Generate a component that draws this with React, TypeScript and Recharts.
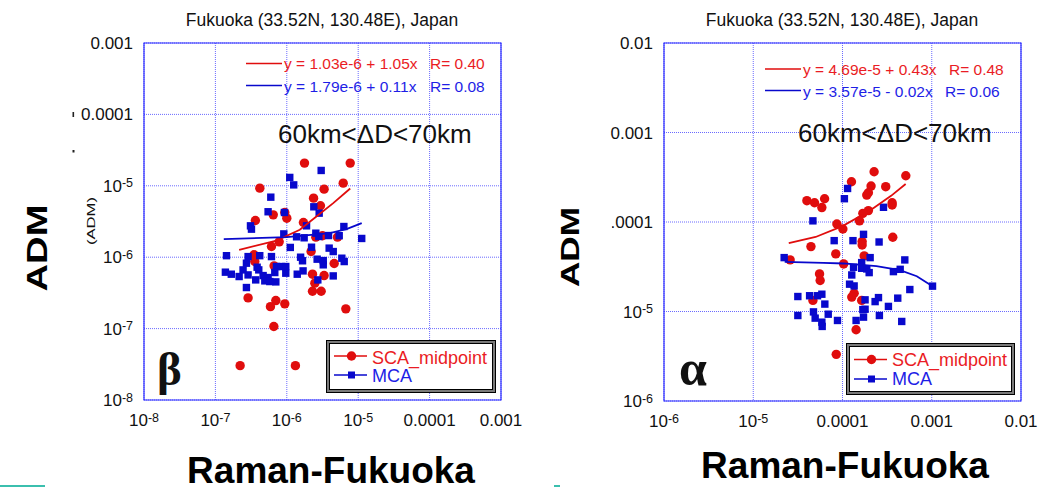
import React from "react";
import { ScatterChart, Scatter, XAxis, YAxis, CartesianGrid, ReferenceArea } from "recharts";

const RED = "#e00d0d";
const BLUE = "#0808cc";
const RED_TXT = "#ea1c24";
const BLUE_TXT = "#1e1ee6";
const GRID = "#6b6bff";
const FRAME = "#2a2aff";

// beta panel (left)
const betaTicks = [1e-8, 1e-7, 1e-6, 1e-5, 1e-4, 1e-3];
const betaScaX = [1.77e-6, 7.73e-6, 6.17e-6, 4.19e-7, 3.33e-6, 2.37e-6, 2.96e-6, 6.46e-7, 9.37e-7, 1.0e-6, 3.63e-7, 1.71e-6, 2.55e-6, 3.16e-6, 5.13e-6, 7.82e-7, 6.1e-7, 3.48e-7, 3.56e-7, 4.61e-6, 6.64e-7, 2.19e-6, 2.29e-6, 3.33e-6, 2.47e-6, 2.29e-6, 3.03e-6, 2.87e-7, 7.02e-7, 9.37e-7, 5.9e-7, 6.71e-6, 6.58e-7, 2.22e-7, 1.32e-6];
const betaScaY = [2.08e-5, 2.08e-5, 1.09e-5, 9.27e-6, 8.97e-6, 6.71e-6, 5.25e-6, 3.92e-6, 4.23e-6, 3.52e-6, 3.27e-6, 3.06e-6, 1.91e-6, 2.0e-6, 1.91e-6, 1.64e-6, 1.41e-6, 1.08e-6, 8.7e-7, 8.15e-7, 7.57e-7, 1.2e-6, 5.78e-7, 5.53e-7, 4.33e-7, 3.33e-7, 3.33e-7, 2.69e-7, 2.47e-7, 2.22e-7, 2.03e-7, 1.89e-7, 1.07e-7, 3.03e-8, 3.03e-8];
const betaMcaX = [1.1e-6, 1.25e-6, 3.03e-6, 5.97e-7, 5.47e-7, 9.27e-7, 2.39e-6, 2.84e-6, 3.1e-7, 3.2e-7, 1.89e-6, 9.08e-7, 1.37e-6, 1.75e-6, 2.55e-6, 2.81e-6, 3.84e-6, 5.42e-6, 6.3e-6, 1.12e-5, 1.43e-7, 2.87e-7, 4.18e-7, 6.1e-7, 1.12e-6, 2.22e-6, 3.92e-6, 4.47e-6, 1.56e-6, 1.66e-6, 2.66e-6, 3.24e-6, 3.24e-6, 5.9e-6, 6.37e-6, 2.72e-7, 1.38e-7, 1.67e-7, 2.15e-7, 2.44e-7, 2.87e-7, 3.84e-7, 4.05e-7, 4.66e-7, 3.67e-7, 5.47e-7, 4.92e-7, 5.78e-7, 7.02e-7, 7.16e-7, 8.41e-7, 9.68e-7, 6.79e-7, 9.68e-7, 1.4e-6, 1.69e-6, 2.72e-6, 4.47e-6, 2.72e-7];
const betaMcaY = [1.31e-5, 1.03e-5, 1.64e-5, 6.93e-6, 4.33e-6, 4.23e-6, 5.08e-6, 4.14e-6, 2.75e-6, 2.47e-6, 2.75e-6, 2.12e-6, 1.93e-6, 1.87e-6, 2.17e-6, 1.95e-6, 2.01e-6, 2.0e-6, 2.69e-6, 1.83e-6, 1.05e-6, 1.02e-6, 1.05e-6, 1.02e-6, 1.37e-6, 1.38e-6, 1.34e-6, 1.2e-6, 1.0e-6, 8.91e-7, 9.38e-7, 8.97e-7, 7.82e-7, 9.68e-7, 8.69e-7, 8.24e-7, 6.17e-7, 5.78e-7, 5.36e-7, 6.64e-7, 5.65e-7, 7.24e-7, 6.64e-7, 5.53e-7, 4.81e-7, 5.19e-7, 4.66e-7, 4.56e-7, 4.51e-7, 7.4e-7, 7.4e-7, 7.4e-7, 6.1e-7, 5.97e-7, 5.78e-7, 6.43e-7, 4.81e-7, 5.47e-7, 3.76e-7];
const betaScaFitX = [2.15e-7, 7.16e-7, 1.52e-6, 2.6e-6, 4.47e-6, 7.73e-6];
const betaScaFitY = [1.27e-6, 1.71e-6, 2.42e-6, 3.72e-6, 5.71e-6, 9.18e-6];
const betaMcaFitX = [1.31e-7, 1.0e-6, 4.0e-6, 6.85e-6, 1.12e-5];
const betaMcaFitY = [1.79e-6, 1.91e-6, 2.17e-6, 2.47e-6, 3.0e-6];

// alpha panel (right)
const alphaTicks = [1e-6, 1e-5, 1e-4, 1e-3, 1e-2];
const alphaScaX = [2.26e-4, 5.12e-4, 1.26e-4, 2.09e-4, 3.05e-4, 1.87e-4, 1.95e-4, 3.99e-5, 4.86e-5, 6.3e-5, 5.87e-5, 3.6e-4, 3.6e-4, 1.95e-4, 1.69e-4, 1.55e-4, 8.65e-5, 1.01e-4, 3.66e-4, 4.43e-5, 1.66e-4, 1.66e-4, 8.41e-5, 1.75e-4, 2.59e-5, 1.03e-4, 5.53e-5, 5.62e-5, 1.35e-4, 1.27e-4, 4.66e-5, 1.64e-4, 1.42e-4, 8.51e-5];
const alphaScaY = [3.64e-4, 3.29e-4, 2.82e-4, 2.52e-4, 2.48e-4, 2.0e-4, 2.12e-4, 1.73e-4, 1.64e-4, 1.82e-4, 1.45e-4, 1.64e-4, 1.55e-4, 1.34e-4, 1.25e-4, 1.03e-4, 9.51e-5, 8.36e-5, 6.75e-5, 5.31e-5, 6.04e-5, 5.53e-5, 4.4e-5, 4.18e-5, 3.77e-5, 3.4e-5, 2.63e-5, 2.22e-5, 1.6e-5, 1.45e-5, 1.33e-5, 1.33e-5, 6.25e-6, 3.32e-6];
const alphaMcaX = [1.14e-4, 1.05e-4, 2.88e-4, 4.66e-5, 8.07e-5, 1.31e-4, 1.72e-4, 2.57e-4, 2.22e-5, 2.04e-4, 4.99e-4, 1.64e-4, 1.33e-4, 1.27e-4, 1.64e-4, 1.87e-4, 1.99e-4, 3.72e-4, 4.43e-4, 1.2e-4, 1.35e-4, 5.68e-4, 1.02e-3, 3.16e-5, 4.28e-5, 5.25e-5, 5.87e-5, 6.34e-5, 4.73e-5, 4.94e-5, 5.87e-5, 5.92e-5, 6.92e-5, 8.79e-5, 3.16e-5, 1.42e-4, 1.72e-4, 1.79e-4, 1.79e-4, 2.32e-4, 2.53e-4, 2.59e-4, 3.27e-4, 4.16e-4, 4.61e-4, 1.69e-4];
const alphaMcaY = [2.37e-4, 1.82e-4, 1.46e-4, 1.03e-4, 6.19e-5, 6.19e-5, 7.28e-5, 5.98e-5, 4.0e-5, 4.0e-5, 3.77e-5, 3.52e-5, 3.12e-5, 2.56e-5, 3.04e-5, 2.99e-5, 2.72e-5, 2.79e-5, 2.96e-5, 2.02e-5, 1.93e-5, 1.76e-5, 1.92e-5, 1.47e-5, 1.5e-5, 1.5e-5, 1.56e-5, 1.21e-5, 9.9e-6, 8.43e-6, 7.6e-6, 6.81e-6, 9.33e-6, 7.94e-6, 9.02e-6, 7.94e-6, 8.65e-6, 1.06e-5, 1.35e-5, 1.29e-5, 1.43e-5, 9.02e-6, 1.14e-5, 1.41e-5, 7.74e-6, 1.05e-5];
const alphaScaFitX = [2.5e-5, 5.0e-5, 1.0e-4, 2.0e-4, 3.5e-4, 5.1e-4];
const alphaScaFitY = [5.8e-5, 6.8e-5, 9.0e-5, 1.33e-4, 1.96e-4, 2.66e-4];
const alphaMcaFitX = [2.25e-5, 6.1e-5, 1.03e-4, 2.4e-4, 4.4e-4, 6.8e-4, 1.02e-3];
const alphaMcaFitY = [3.59e-5, 3.5e-5, 3.44e-5, 3.21e-5, 2.9e-5, 2.48e-5, 1.92e-5];

const pts = (xs: number[], ys: number[]) => xs.map((x, i) => ({ x, y: ys[i] }));

function LogTick(props: any) {
  const { x, y, payload, side } = props;
  const v = payload.value;
  const e = Math.round(Math.log10(v));
  const isX = side === "x";
  const tx = isX ? x : x - 11;
  const ty = isX ? y + 26 : y + 6;
  const anchor = isX ? "middle" : "end";
  if (e >= -4) {
    return (
      <text x={tx} y={ty} textAnchor={anchor} fontSize={17} fill="#111">
        {v.toFixed(-e)}
      </text>
    );
  }
  return (
    <text x={tx} y={ty} textAnchor={anchor} fontSize={17} fill="#111">
      <tspan>10</tspan>
      <tspan dy={-4.5} fontSize={12.5}>{`${e}`}</tspan>
    </text>
  );
}

const Dot = (p: any) => <circle cx={p.cx} cy={p.cy} r={4.7} fill={RED} />;
const Sq = (p: any) => <rect x={p.cx - 3.7} y={p.cy - 3.7} width={7.4} height={7.4} fill={BLUE} />;
const NoMark = () => <g />;

function Panel({ ticks, sca, mca, scaFit, mcaFit, width, margin }: any) {
  const lo = ticks[0];
  const hi = ticks[ticks.length - 1];
  return (
    <ScatterChart width={width} height={498} margin={margin}>
      <CartesianGrid stroke={GRID} strokeDasharray="1 1" />
      <XAxis
        type="number"
        dataKey="x"
        scale="log"
        domain={[lo, hi]}
        ticks={ticks}
        allowDataOverflow
        height={30}
        axisLine={false}
        tickLine={false}
        tickSize={0}
        tickMargin={0}
        interval={0}
        tick={(p: any) => <LogTick {...p} side="x" />}
      />
      <YAxis
        type="number"
        dataKey="y"
        scale="log"
        domain={[lo, hi]}
        ticks={ticks}
        allowDataOverflow
        width={60}
        axisLine={false}
        tickLine={false}
        tickSize={0}
        tickMargin={0}
        interval={0}
        tick={(p: any) => <LogTick {...p} side="y" />}
      />
      <ReferenceArea x1={lo} x2={hi} y1={lo} y2={hi} fill="none" stroke={FRAME} strokeWidth={1.2} />
      <Scatter data={sca} shape={Dot} isAnimationActive={false} />
      <Scatter data={mca} shape={Sq} isAnimationActive={false} />
      <Scatter data={scaFit} shape={NoMark} line={{ stroke: RED, strokeWidth: 1.8 }} lineType="joint" isAnimationActive={false} />
      <Scatter data={mcaFit} shape={NoMark} line={{ stroke: BLUE, strokeWidth: 1.8 }} lineType="joint" isAnimationActive={false} />
    </ScatterChart>
  );
}

function LegendBox({ x, y, w, h, rows }: any) {
  return (
    <g>
      <rect x={x + 0.5} y={y + 0.5} width={w} height={h} fill="#7a7a7a" stroke="#000" />
      <rect x={x + 3.5} y={y + 3.5} width={w - 6} height={h - 6} fill="#fff" stroke="#000" />
      {rows.map((r: any, i: number) => (
        <g key={i}>
          <line x1={x + 8} x2={x + 41} y1={r.cy} y2={r.cy} stroke={r.color} strokeWidth={1.6} />
          {r.circle ? (
            <circle cx={x + 25.5} cy={r.cy} r={4.7} fill={r.color} />
          ) : (
            <rect x={x + 22} y={r.cy - 3.5} width={7} height={7} fill={r.color} />
          )}
          <text x={x + 46} y={r.base} fontSize={18} fill={r.txt}>{r.label}</text>
        </g>
      ))}
    </g>
  );
}

export default function App() {
  const font = "'Liberation Sans', Arial, sans-serif";
  return (
    <div style={{ position: "absolute", left: 0, top: 0, width: 1064, height: 498, background: "#fff", fontFamily: font, overflow: "hidden" }}>
      <div style={{ position: "absolute", left: 0, top: 0 }}>
        <Panel
          width={540}
          ticks={betaTicks}
          sca={pts(betaScaX, betaScaY)}
          mca={pts(betaMcaX, betaMcaY)}
          scaFit={pts(betaScaFitX, betaScaFitY)}
          mcaFit={pts(betaMcaFitX, betaMcaFitY)}
          margin={{ top: 43, right: 39, bottom: 68, left: 84 }}
        />
      </div>
      <div style={{ position: "absolute", left: 540, top: 0 }}>
        <Panel
          width={524}
          ticks={alphaTicks}
          sca={pts(alphaScaX, alphaScaY)}
          mca={pts(alphaMcaX, alphaMcaY)}
          scaFit={pts(alphaScaFitX, alphaScaFitY)}
          mcaFit={pts(alphaMcaFitX, alphaMcaFitY)}
          margin={{ top: 43, right: 43, bottom: 67, left: 64 }}
        />
      </div>
      <svg width={1064} height={498} style={{ position: "absolute", left: 0, top: 0, pointerEvents: "none" }} fontFamily={font}>
        {/* titles */}
        <text x={322} y={26} textAnchor="middle" fontSize={17.5} fill="#111">Fukuoka (33.52N, 130.48E), Japan</text>
        <text x={842} y={26} textAnchor="middle" fontSize={17.5} fill="#111">Fukuoka (33.52N, 130.48E), Japan</text>

        {/* fit legends */}
        <line x1={246} x2={282} y1={63.5} y2={63.5} stroke={RED} strokeWidth={1.6} />
        <text x={284} y={69} fontSize={15.5} fill={RED_TXT}>y = 1.03e-6 + 1.05x</text>
        <text x={430} y={69} fontSize={15.5} fill={RED_TXT}>R= 0.40</text>
        <line x1={246} x2={282} y1={85.5} y2={85.5} stroke={BLUE} strokeWidth={1.6} />
        <text x={284} y={91.5} fontSize={15.5} fill={BLUE_TXT}>y = 1.79e-6 + 0.11x</text>
        <text x={430} y={91.5} fontSize={15.5} fill={BLUE_TXT}>R= 0.08</text>

        <line x1={765} x2={801} y1={69} y2={69} stroke={RED} strokeWidth={1.6} />
        <text x={803} y={74.5} fontSize={15.5} fill={RED_TXT}>y = 4.69e-5 + 0.43x</text>
        <text x={949} y={74.5} fontSize={15.5} fill={RED_TXT}>R= 0.48</text>
        <line x1={765} x2={801} y1={90.5} y2={90.5} stroke={BLUE} strokeWidth={1.6} />
        <text x={803} y={96.5} fontSize={15.5} fill={BLUE_TXT}>y = 3.57e-5 - 0.02x</text>
        <text x={945} y={96.5} fontSize={15.5} fill={BLUE_TXT}>R= 0.06</text>

        {/* distance range */}
        <text x={278} y={142.5} fontSize={26} fill="#111">60km&lt;ΔD&lt;70km</text>
        <text x={798} y={141.5} fontSize={26} fill="#111">60km&lt;ΔD&lt;70km</text>

        {/* greek tags */}
        <text x={157} y={385} fontSize={47} fontWeight="bold" fontFamily="'Liberation Serif', 'Times New Roman', serif" fill="#111">β</text>
        <text x={679} y={385} fontSize={50} fontWeight="bold" fontFamily="'Liberation Serif', 'Times New Roman', serif" fill="#111">α</text>

        {/* series legends */}
        <LegendBox
          x={326}
          y={340}
          w={169}
          h={52}
          rows={[
            { cy: 356, base: 363.5, color: RED, txt: RED_TXT, label: "SCA_midpoint", circle: true },
            { cy: 375, base: 382, color: BLUE, txt: BLUE_TXT, label: "MCA", circle: false },
          ]}
        />
        <LegendBox
          x={846}
          y={343}
          w={168}
          h={51}
          rows={[
            { cy: 359.5, base: 366, color: RED, txt: RED_TXT, label: "SCA_midpoint", circle: true },
            { cy: 379, base: 385, color: BLUE, txt: BLUE_TXT, label: "MCA", circle: false },
          ]}
        />

        {/* axis titles */}
        <text x={46.5} y={248} transform="rotate(-90 46.5 248)" textAnchor="middle" fontSize={29} fontWeight="bold" textLength={87} lengthAdjust="spacingAndGlyphs" fill="#000">ADM</text>
        <text x={95} y={221} transform="rotate(-90 95 221)" textAnchor="middle" fontSize={11} textLength={48} lengthAdjust="spacingAndGlyphs" fill="#111">(ADM)</text>
        <text x={579} y={247} transform="rotate(-90 579 247)" textAnchor="middle" fontSize={26} fontWeight="bold" textLength={80} lengthAdjust="spacingAndGlyphs" fill="#000">ADM</text>
        <text x={331} y={483} textAnchor="middle" fontSize={37} fontWeight="bold" fill="#000">Raman-Fukuoka</text>
        <text x={845} y={478} textAnchor="middle" fontSize={37} fontWeight="bold" fill="#000">Raman-Fukuoka</text>

        {/* slide remnants */}
        <rect x={598} y={210} width={13.5} height={24} fill="#fff" />
        <rect x={72.5} y={112} width={1.6} height={5} fill="#222" />
        <rect x={72.5} y={150} width={2} height={2.5} fill="#222" />
        <rect x={0} y={485} width={45} height={2} fill="#3bbfae" />
        <rect x={554} y={485} width={6} height={2} fill="#3bbfae" />
      </svg>
    </div>
  );
}
